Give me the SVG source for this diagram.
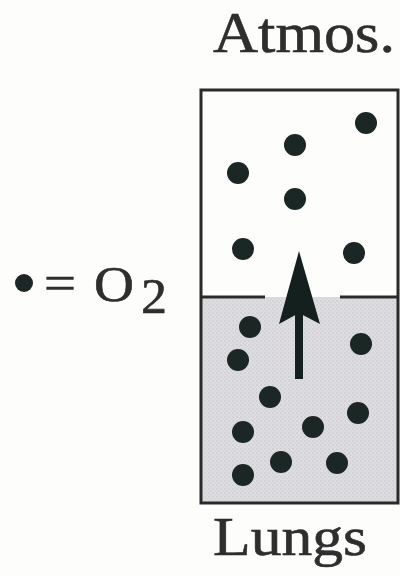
<svg xmlns="http://www.w3.org/2000/svg" width="400" height="576" viewBox="0 0 400 576">
<style>
.lbl{font-family:"Liberation Serif","DejaVu Serif",serif;fill:#2e2e2e;stroke:#2e2e2e;stroke-width:0.6}
.dot{fill:#1b2725}
.edge{stroke:#2a2a2a;stroke-width:3;fill:none}
</style>
<defs>
<pattern id="stip" width="4" height="4" patternUnits="userSpaceOnUse">
<rect width="4" height="4" fill="#dedee2"/>
<circle cx="1" cy="1" r="0.8" fill="#c4c4ca"/>
<circle cx="3" cy="3" r="0.7" fill="#cbcbd0"/>
</pattern>
</defs>
<rect width="400" height="576" fill="#fdfdfb"/>
<g id="lungs-region">
<rect x="201" y="297" width="197" height="206" fill="url(#stip)"/>
</g>
<g id="box">
<rect x="201" y="90" width="197" height="413" class="edge"/>
<line x1="201" y1="297" x2="265" y2="297" class="edge" stroke-width="2.5"/>
<line x1="340" y1="297" x2="398" y2="297" class="edge" stroke-width="2.5"/>
</g>
<g id="atmos-dots">
<circle class="dot" cx="366" cy="123" r="11"/>
<circle class="dot" cx="295" cy="145" r="11"/>
<circle class="dot" cx="238" cy="173" r="11"/>
<circle class="dot" cx="295" cy="199" r="11"/>
<circle class="dot" cx="243" cy="249" r="11"/>
<circle class="dot" cx="354" cy="253" r="11"/>
</g>
<g id="lungs-dots">
<circle class="dot" cx="250" cy="327" r="11"/>
<circle class="dot" cx="361" cy="344" r="11"/>
<circle class="dot" cx="238" cy="360" r="11"/>
<circle class="dot" cx="270" cy="397" r="11"/>
<circle class="dot" cx="358" cy="413" r="11"/>
<circle class="dot" cx="243" cy="432" r="11"/>
<circle class="dot" cx="313" cy="427" r="11"/>
<circle class="dot" cx="281" cy="462" r="11"/>
<circle class="dot" cx="337" cy="463" r="11"/>
<circle class="dot" cx="243" cy="475" r="11"/>
</g>
<g id="connectors">
<line x1="299" y1="379" x2="299" y2="305" stroke="#14201e" stroke-width="8"/>
<polygon points="299,251 320,324 299,313 279,324" fill="#14201e"/>
</g>
<g id="label-atmos">
<text class="lbl" x="213" y="52" font-size="56" textLength="182" lengthAdjust="spacingAndGlyphs">Atmos.</text>
</g>
<g id="label-lungs">
<text class="lbl" x="213" y="555" font-size="55" textLength="154" lengthAdjust="spacingAndGlyphs">Lungs</text>
</g>
<g id="legend">
<circle class="dot" cx="24" cy="283" r="9"/>
<text class="lbl" x="44" y="300" font-size="50" textLength="32" lengthAdjust="spacingAndGlyphs">=</text>
<text class="lbl" x="94" y="301" font-size="50" textLength="40" lengthAdjust="spacingAndGlyphs">O</text>
<text class="lbl" x="141" y="313" font-size="50" textLength="26" lengthAdjust="spacingAndGlyphs">2</text>
</g>
</svg>
